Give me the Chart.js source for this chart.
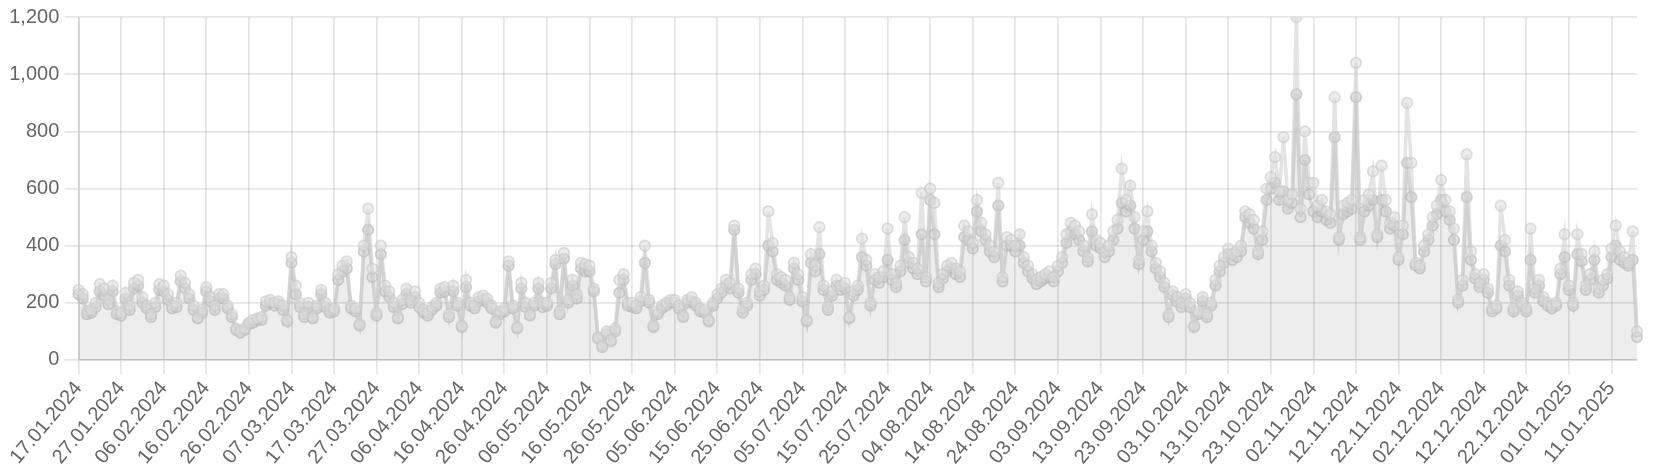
<!DOCTYPE html>
<html>
<head>
<meta charset="utf-8">
<script src="https://cdn.jsdelivr.net/npm/chart.js@4.4.1/dist/chart.umd.min.js"></script>
<style>
  html, body { margin: 0; padding: 0; background: #fff; overflow: hidden; }
  #wrap { width: 1655px; height: 472px; }
</style>
</head>
<body>
<div id="wrap"><canvas id="chart"></canvas></div>
<script>
// daily values, 17.01.2024 .. 17.01.2025
const upperValues = [
  245, 230, 170, 175, 200, 265, 250, 210, 260, 170,
  165, 235, 190, 270, 280, 220, 190, 160, 200, 265,
  260, 230, 190, 200, 295, 270, 230, 190, 150, 175,
  255, 220, 190, 230, 230, 190, 160, 110, 100, 110,
  130, 140, 145, 150, 205, 210, 200, 205, 190, 140,
  360, 260, 200, 160, 200, 150, 190, 245, 200, 175,
  180, 300, 330, 345, 190, 180, 125, 400, 530, 320,
  165, 400, 260, 240, 200, 150, 210, 250, 210, 240,
  200, 175, 165, 185, 200, 250, 255, 160, 260, 200,
  120, 280, 200, 190, 220, 225, 215, 190, 135, 170,
  180, 345, 190, 115, 270, 200, 160, 200, 270, 200,
  200, 270, 350, 170, 375, 210, 280, 230, 340, 335,
  330, 250, 80, 50, 100, 70, 110, 280, 300, 200,
  200, 190, 220, 400, 210, 120, 170, 190, 200, 210,
  210, 190, 155, 210, 220, 200, 180, 175, 140, 200,
  230, 250, 280, 270, 470, 250, 180, 200, 300, 320,
  240, 260, 520, 410, 300, 290, 280, 220, 340, 300,
  220, 140, 370, 330, 465, 260, 185, 240, 280, 260,
  270, 150, 240, 260, 425, 350, 200, 300, 290, 310,
  460, 300, 270, 330, 500, 360, 340, 320, 585, 290,
  600, 550, 270, 300, 330, 340, 320, 310, 470, 450,
  410, 560, 480, 440, 400, 380, 620, 290, 430, 420,
  400, 440, 360, 330, 300, 280, 290, 300, 310, 290,
  330, 360, 440, 480, 470, 450, 400, 360, 510, 420,
  410, 380, 400, 450, 490, 670, 560, 610, 500, 350,
  450, 520, 400, 340, 310, 270, 160, 240, 220, 200,
  230, 200, 120, 170, 220, 160, 200, 280, 330, 360,
  390, 370, 380, 400, 520, 510, 490, 380, 450, 600,
  640, 710, 590, 780, 560, 580, 1200, 530, 800, 620,
  620, 540, 560, 520, 510, 920, 430, 540, 550, 560,
  1040, 430, 560, 580, 660, 440, 680, 560, 480, 500,
  360, 470, 900, 690, 340, 330, 400, 440, 500, 540,
  630, 560, 520, 460, 210, 280, 720, 380, 300, 270,
  300, 250, 180, 190, 540, 420, 280, 180, 240, 200,
  180, 460, 250, 280, 220, 200, 190, 200, 320, 440,
  260, 200, 440, 370, 260, 300, 380, 250, 280, 300,
  390, 470, 380, 360, 340, 450, 100
];

const lowerValues = [
  230, 215, 160, 165, 185, 240, 225, 195, 240, 160,
  155, 215, 175, 250, 260, 200, 180, 150, 185, 245,
  240, 210, 180, 185, 275, 250, 215, 175, 145, 165,
  240, 205, 175, 215, 215, 180, 150, 105, 95, 105,
  125, 130, 140, 140, 190, 200, 190, 195, 175, 135,
  340, 230, 185, 150, 185, 145, 180, 230, 185, 165,
  170, 280, 310, 320, 180, 170, 120, 380, 455, 290,
  155, 370, 240, 220, 185, 145, 195, 230, 200, 220,
  185, 165, 155, 175, 190, 235, 240, 150, 240, 190,
  115, 255, 190, 180, 205, 210, 200, 180, 130, 160,
  170, 330, 180, 110, 250, 185, 155, 190, 250, 185,
  190, 250, 335, 160, 355, 200, 260, 215, 320, 310,
  310, 240, 75, 45, 90, 65, 100, 235, 280, 190,
  185, 180, 205, 340, 200, 115, 160, 180, 190, 200,
  200, 180, 150, 200, 205, 190, 170, 165, 135, 190,
  215, 235, 260, 250, 455, 235, 165, 190, 280, 300,
  225, 245, 400, 380, 280, 270, 260, 210, 320, 280,
  205, 135, 340, 310, 370, 245, 175, 225, 260, 245,
  250, 145, 225, 245, 360, 330, 190, 280, 270, 290,
  350, 280, 255, 310, 420, 340, 320, 300, 440, 275,
  560, 440, 255, 285, 310, 320, 300, 290, 430, 420,
  390, 520, 450, 420, 380, 360, 540, 275, 400, 400,
  380, 400, 340, 310, 285, 265, 275, 285, 290, 275,
  310, 340, 410, 450, 440, 420, 380, 345, 450, 400,
  390, 360, 380, 420, 460, 550, 520, 540, 460, 335,
  420, 450, 380, 320, 290, 255, 150, 225, 205, 185,
  215, 185, 115, 160, 205, 150, 190, 260, 310, 340,
  370, 350, 360, 380, 500, 480, 460, 370, 420, 560,
  600, 620, 560, 590, 530, 550, 930, 500, 700, 580,
  520, 500, 520, 490, 480, 780, 420, 510, 520, 530,
  920, 420, 520, 540, 560, 430, 560, 520, 460, 470,
  350, 440, 690, 570, 330, 320, 380, 420, 470, 510,
  560, 520, 490, 420, 200, 260, 570, 350, 285, 255,
  280, 235, 170, 180, 400, 380, 260, 170, 225, 190,
  170, 350, 235, 260, 205, 190, 180, 190, 300, 360,
  245, 190, 370, 345, 245, 280, 350, 235, 260, 285,
  360, 400, 350, 340, 330, 350, 80
];

// one label per day, dd.mm.yyyy
const dayLabels = [];
const start = new Date(2024, 0, 17);
for (let i = 0; i < upperValues.length; i++) {
    const d = new Date(start.getFullYear(), start.getMonth(), start.getDate() + i);
    const dd = String(d.getDate()).padStart(2, '0');
    const mm = String(d.getMonth() + 1).padStart(2, '0');
    dayLabels.push(`${dd}.${mm}.${d.getFullYear()}`);
}

const yMin = 0;
const yMax = 1200;
const yStep = 200;

// the original was drawn at about 1.75x, so sizes are scaled by hand
const S = 1.75;

Chart.defaults.font.family = "Arial, 'Liberation Sans', Helvetica, sans-serif";
Chart.defaults.font.size = 20;
Chart.defaults.color = '#666';

const gridStyle = { color: 'rgba(0,0,0,0.1)', lineWidth: S, tickLength: 8 * S };

new Chart(document.getElementById('chart'), {
    type: 'line',
    data: {
        labels: dayLabels,
        datasets: [
            {
                data: upperValues,
                borderColor: 'rgba(205,205,205,0.55)',
                backgroundColor: 'rgba(220,220,220,0.5)',
                pointBackgroundColor: 'rgba(222,222,222,0.55)',
                pointBorderColor: 'rgba(200,200,200,0.6)',
                borderWidth: 2 * S,
                pointRadius: 3 * S,
                pointBorderWidth: S,
                fill: false
            },
            {
                data: lowerValues,
                borderColor: 'rgba(185,185,185,0.55)',
                backgroundColor: 'rgba(0,0,0,0.07)',
                pointBackgroundColor: 'rgba(205,205,205,0.55)',
                pointBorderColor: 'rgba(180,180,180,0.6)',
                borderWidth: 2 * S,
                pointRadius: 3 * S,
                pointBorderWidth: S,
                fill: 'origin'
            }
        ]
    },
    options: {
        responsive: true,
        maintainAspectRatio: false,
        animation: false,
        layout: { padding: { left: 4, right: 18 } },
        plugins: {
            legend: { display: false },
            tooltip: { enabled: false }
        },
        scales: {
            x: {
                grid: gridStyle,
                border: { color: 'rgba(0,0,0,0.1)', width: S },
                ticks: {
                    autoSkip: true,
                    autoSkipPadding: 3 * S,
                    maxTicksLimit: 37,
                    maxRotation: 50,
                    minRotation: 50,
                    padding: 3
                }
            },
            y: {
                min: yMin,
                max: yMax,
                grid: gridStyle,
                border: { color: 'rgba(0,0,0,0.1)', width: S },
                ticks: {
                    stepSize: yStep,
                    padding: 3 * S,
                    callback: v => v.toLocaleString('en-US')
                }
            }
        }
    }
});
</script>
</body>
</html>
